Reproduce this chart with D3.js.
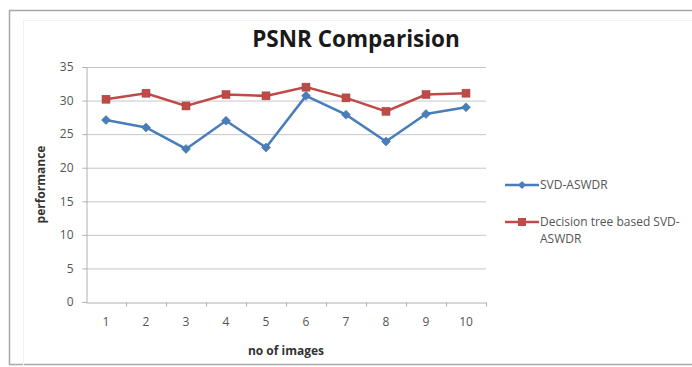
<!DOCTYPE html>
<html>
<head>
<meta charset="utf-8">
<script src="https://cdn.jsdelivr.net/npm/d3@7/dist/d3.min.js"></script>
<style>
  html, body { margin: 0; padding: 0; background: #fff; }
  svg { display: block; font-family: "Open Sans", "Liberation Sans", sans-serif; }
</style>
</head>
<body>
<svg id="chart" width="692" height="367"></svg>
<script>
// Image index along the x axis
const images = [1, 2, 3, 4, 5, 6, 7, 8, 9, 10];
// PSNR for plain SVD-ASWDR
const svdAswdr = [27.1, 26.0, 22.8, 27.0, 23.0, 30.7, 27.9, 23.9, 28.0, 29.0];
// PSNR for the decision-tree variant
const treeSvdAswdr = [30.2, 31.1, 29.2, 30.9, 30.7, 32.0, 30.4, 28.4, 30.9, 31.1];
const yTicks = [0, 5, 10, 15, 20, 25, 30, 35];
const seriesNames = ["SVD-ASWDR", "Decision tree based SVD-ASWDR"];

const svg = d3.select("#chart");

// Outer chart frame
svg.append("rect")
  .attr("x", 9.5).attr("y", 10.5).attr("width", 700).attr("height", 354)
  .attr("fill", "#fff").attr("stroke", "#a8a8a8").attr("stroke-width", 1.5);
svg.append("rect")
  .attr("x", 23.5).attr("y", 20.5).attr("width", 680).attr("height", 360)
  .attr("fill", "none").attr("stroke", "#f2f2f2").attr("stroke-width", 1);

const plot = { left: 86, right: 486, top: 67, bottom: 302 };

const x = d3.scaleBand().domain(images).range([plot.left, plot.right]);
const y = d3.scaleLinear().domain([0, 35]).range([plot.bottom, plot.top]);

// Horizontal gridlines
svg.append("g")
  .selectAll("line")
  .data(yTicks.filter(t => t > 0))
  .join("line")
  .attr("x1", plot.left).attr("x2", plot.right)
  .attr("y1", d => y(d) + 0.5).attr("y2", d => y(d) + 0.5)
  .attr("stroke", "#c6c6c6").attr("stroke-width", 1);

// Y axis
const yAxis = svg.append("g")
  .attr("transform", `translate(${plot.left + 0.5},0)`)
  .call(d3.axisLeft(y).tickValues(yTicks).tickSize(4).tickPadding(9));
yAxis.select(".domain").attr("stroke", "#b0b0b0");
yAxis.selectAll(".tick line").attr("stroke", "#b0b0b0");
yAxis.selectAll(".tick text").attr("fill", "#555").style("font-size", "12px")
  .style("font-family", "'Open Sans', sans-serif");

// X axis with tick marks between categories
const xAxis = svg.append("g")
  .attr("transform", `translate(0,${plot.bottom + 0.5})`)
  .call(d3.axisBottom(x).tickSize(0).tickPadding(15));
xAxis.select(".domain").attr("stroke", "#b0b0b0");
xAxis.selectAll(".tick text").attr("fill", "#555").style("font-size", "12px")
  .style("font-family", "'Open Sans', sans-serif");
xAxis.append("g")
  .selectAll("line")
  .data(images)
  .join("line")
  .attr("x1", d => x(d) + x.bandwidth() + 0.5)
  .attr("x2", d => x(d) + x.bandwidth() + 0.5)
  .attr("y1", 0).attr("y2", 4)
  .attr("stroke", "#b0b0b0");

// Title and axis titles
svg.append("text")
  .attr("x", 356).attr("y", 47)
  .attr("text-anchor", "middle")
  .style("font-size", "22.5px").style("font-weight", "bold")
  .attr("fill", "#1a1a1a")
  .text("PSNR Comparision");

svg.append("text")
  .attr("transform", `translate(45,${(plot.top + plot.bottom) / 2}) rotate(-90)`)
  .attr("text-anchor", "middle")
  .style("font-size", "12px").style("font-weight", "bold")
  .attr("fill", "#333")
  .text("performance");

svg.append("text")
  .attr("x", (plot.left + plot.right) / 2).attr("y", 355)
  .attr("text-anchor", "middle")
  .style("font-size", "12px").style("font-weight", "bold")
  .attr("fill", "#333")
  .text("no of images");

const cx = d => x(d) + x.bandwidth() / 2;
const line = d3.line().x(d => cx(d.img)).y(d => y(d.v));

const blue = "#4a7ebb";
const red = "#be4b48";
const blueData = images.map((img, i) => ({ img, v: svdAswdr[i] }));
const redData = images.map((img, i) => ({ img, v: treeSvdAswdr[i] }));

function diamond(sel, size) {
  sel.attr("d", `M0,${-size} L${size},0 L0,${size} L${-size},0 Z`);
}

// SVD-ASWDR series
svg.append("path").datum(blueData)
  .attr("d", line).attr("fill", "none")
  .attr("stroke", blue).attr("stroke-width", 2.5);
svg.append("g").selectAll("path").data(blueData).join("path")
  .attr("transform", d => `translate(${cx(d.img)},${y(d.v)})`)
  .call(diamond, 4.5)
  .attr("fill", blue).attr("stroke", "#3a6a9e").attr("stroke-width", 0.5);

// Decision tree based series
svg.append("path").datum(redData)
  .attr("d", line).attr("fill", "none")
  .attr("stroke", red).attr("stroke-width", 2.5);
svg.append("g").selectAll("rect").data(redData).join("rect")
  .attr("x", d => cx(d.img) - 4).attr("y", d => y(d.v) - 4)
  .attr("width", 8).attr("height", 8)
  .attr("fill", red).attr("stroke", "#a33c39").attr("stroke-width", 0.5);

// Legend
const legend = svg.append("g");
const legendRows = [
  { name: seriesNames[0], color: blue, y: 185, shape: "diamond" },
  { name: seriesNames[1], color: red, y: 222, shape: "square" }
];
legendRows.forEach(r => {
  legend.append("line")
    .attr("x1", 505).attr("x2", 539).attr("y1", r.y).attr("y2", r.y)
    .attr("stroke", r.color).attr("stroke-width", 2.5);
  if (r.shape === "diamond") {
    legend.append("path").attr("transform", `translate(522,${r.y})`)
      .call(diamond, 4).attr("fill", r.color);
  } else {
    legend.append("rect").attr("x", 518).attr("y", r.y - 4)
      .attr("width", 8).attr("height", 8).attr("fill", r.color);
  }
});
legend.append("text").attr("x", 540).attr("y", 189)
  .style("font-size", "12px").attr("fill", "#555").text("SVD-ASWDR");
const t2 = legend.append("text").attr("x", 540).attr("y", 226)
  .style("font-size", "12px").attr("fill", "#555");
t2.append("tspan").attr("x", 540).text("Decision tree based SVD-");
t2.append("tspan").attr("x", 540).attr("dy", 17).text("ASWDR");
</script>
</body>
</html>
